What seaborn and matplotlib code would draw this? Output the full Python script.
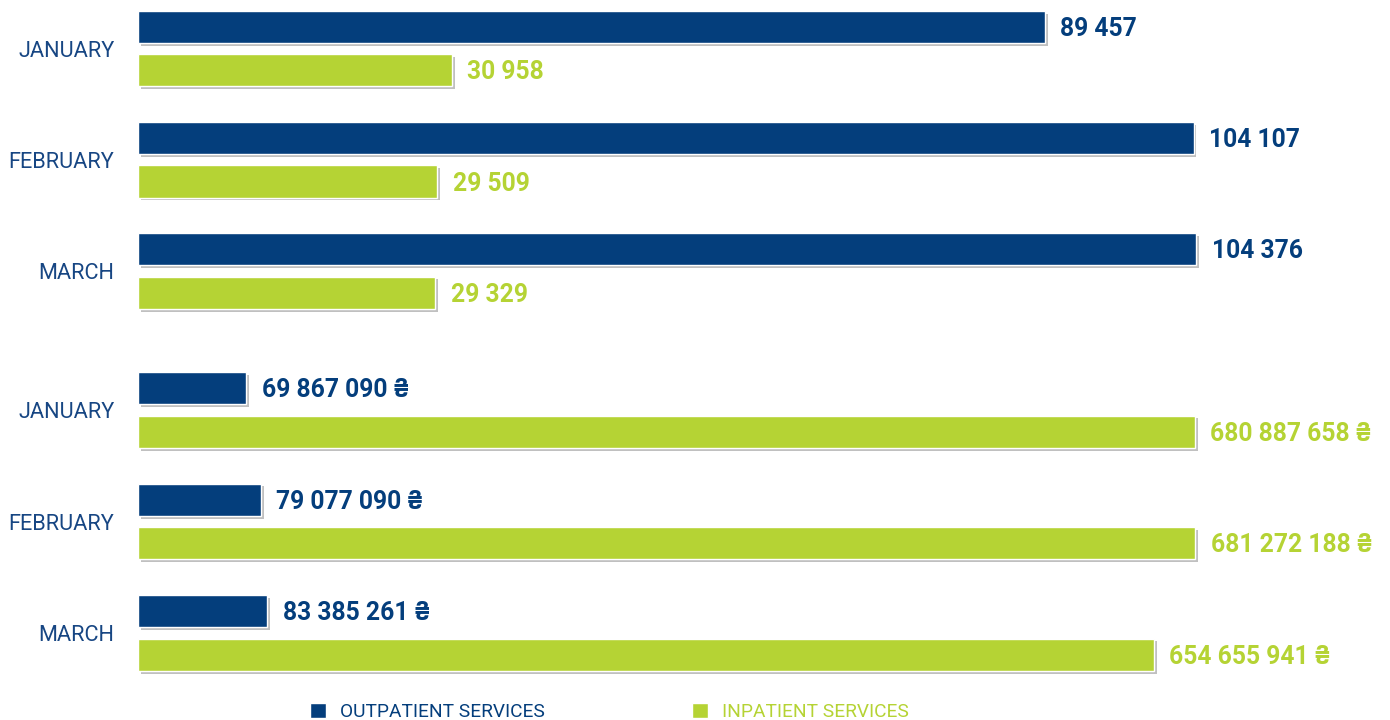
import matplotlib
matplotlib.use("Agg")
import matplotlib.pyplot as plt
import matplotlib.patheffects as pe
from matplotlib.patches import Patch
import pandas as pd
import seaborn as sns

months = ["JANUARY", "FEBRUARY", "MARCH"]
services = ["OUTPATIENT SERVICES", "INPATIENT SERVICES"]

# number of services
visits_out = [89457, 104107, 104376]
visits_in = [30958, 29509, 29329]
# amount paid, UAH
paid_out = [69867090, 79077090, 83385261]
paid_in = [680887658, 681272188, 654655941]

BLUE = "#043e7c"
GREEN = "#b5d334"
LABEL_BLUE = "#174683"
palette = {services[0]: BLUE, services[1]: GREEN}

W, H = 1390, 720


def make_frame(out_vals, in_vals):
    return pd.DataFrame({
        "month": months * 2,
        "service": [services[0]] * len(months) + [services[1]] * len(months),
        "value": out_vals + in_vals,
    })


def fmt(v, suffix=""):
    return f"{v:,}".replace(",", " ") + suffix


def draw_group(ax, data, suffix, xmax, ylim):
    sns.barplot(data=data, y="month", x="value", hue="service",
                order=months, hue_order=services, palette=palette,
                orient="h", width=0.78, gap=0.26, saturation=1,
                legend=False, ax=ax)
    shadow = [pe.SimplePatchShadow(offset=(2, -2), shadow_rgbFace="#c0c0c0", alpha=1),
              pe.Normal()]
    for container, color in zip(ax.containers, [BLUE, GREEN]):
        for bar in container:
            bar.set_path_effects(shadow)
            v = bar.get_width()
            y = bar.get_y() + bar.get_height() / 2
            ax.annotate(fmt(int(round(v)), suffix), (v, y), xytext=(11, -1.5),
                        textcoords="offset points", va="center", ha="left",
                        color=color, fontsize=17.7, fontweight="bold")
    ax.set_xlim(0, xmax)
    ax.set_ylim(*ylim)
    ax.set_xlabel("")
    ax.set_ylabel("")
    ax.set_xticks([])
    ax.tick_params(axis="y", length=0, pad=17, labelsize=15.7, labelcolor=LABEL_BLUE)
    sns.despine(ax=ax, left=True, bottom=True)


sns.set_style("white")
plt.rcParams["font.family"] = ["Roboto", "DejaVu Sans"]

fig = plt.figure(figsize=(W / 100, H / 100), dpi=100)
left = 138 / W
width = 1 - left
ax_top = fig.add_axes([left, 1 - 330 / H, width, 330 / H])
ax_bot = fig.add_axes([left, 1 - 690 / H, width, 345 / H])

draw_group(ax_top, make_frame(visits_out, visits_in), "", 123470, (2.530, -0.436))
draw_group(ax_bot, make_frame(paid_out, paid_in), " ₴", 806.7e6, (2.511, -0.583))

for x0, name, color in [(300, services[0], BLUE), (682, services[1], GREEN)]:
    fig.legend(handles=[Patch(facecolor=color)], labels=[name],
               loc="center left", bbox_to_anchor=(x0 / W, 1 - 712 / H),
               frameon=False, borderpad=0, handlelength=0.85, handleheight=0.85,
               handletextpad=0.75, labelcolor=[color], fontsize=13.8)

fig.savefig("out.png", dpi=100)
